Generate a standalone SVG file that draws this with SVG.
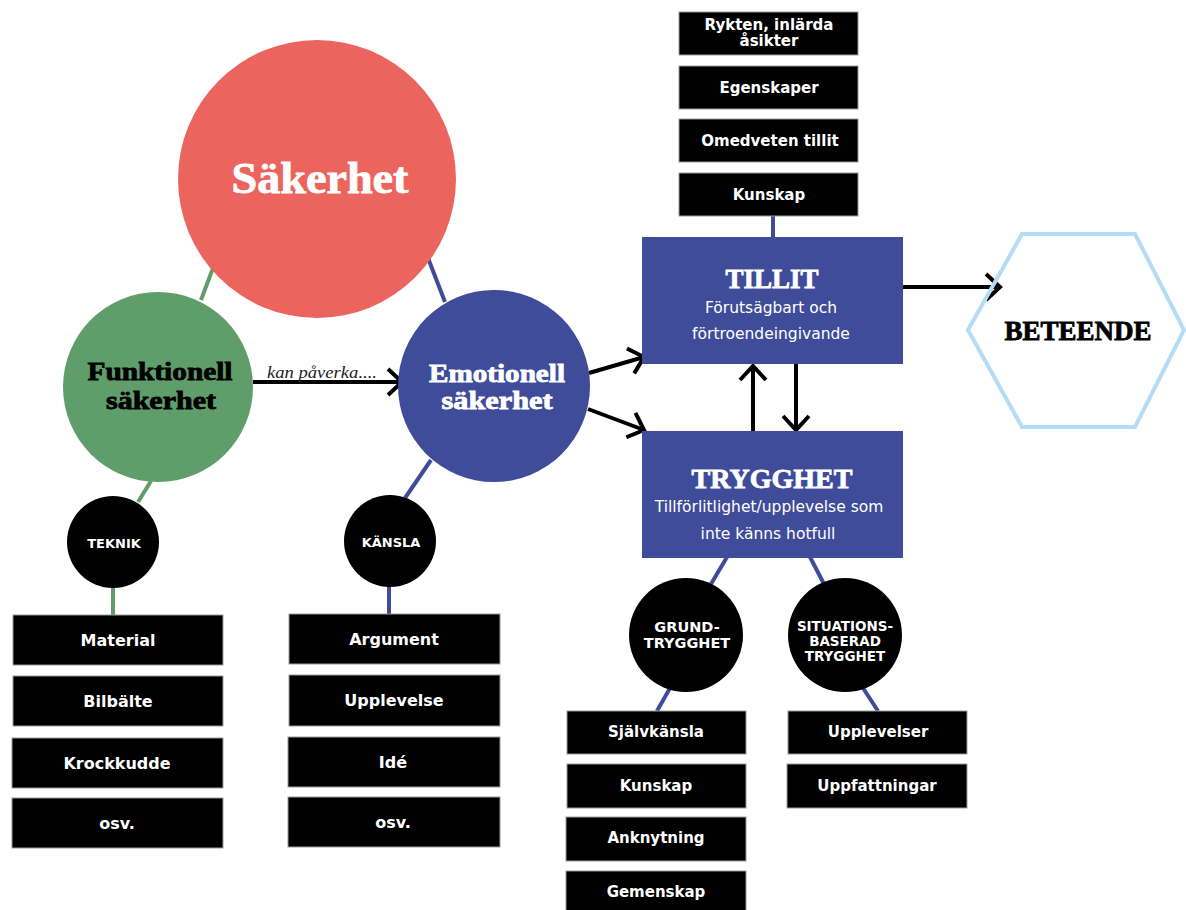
<svg xmlns="http://www.w3.org/2000/svg" width="1186" height="910" viewBox="0 0 1186 910">
<defs>
<style>
.box{fill:#000;stroke:#9a9a9a;stroke-width:1}
.bt{font-family:"DejaVu Sans",sans-serif;font-weight:bold;font-size:16px;fill:#fff;text-anchor:middle}
.bts{font-family:"DejaVu Sans",sans-serif;font-weight:bold;font-size:15px;fill:#fff;text-anchor:middle}
.ct{font-family:"DejaVu Sans",sans-serif;font-weight:bold;font-size:13px;fill:#fff;text-anchor:middle}
.ct2{font-family:"DejaVu Sans",sans-serif;font-weight:bold;font-size:14.5px;fill:#fff;text-anchor:middle}
.ct3{font-family:"DejaVu Sans",sans-serif;font-weight:bold;font-size:13.5px;fill:#fff;text-anchor:middle}
.ser{font-family:"Liberation Serif",serif;font-weight:bold;text-anchor:middle;stroke-width:0.8}
.w{fill:#fff;stroke:#fff}
.k{fill:#000;stroke:#000}
.sub{font-family:"DejaVu Sans",sans-serif;font-size:15.5px;fill:#fff;text-anchor:middle}
.blue{stroke:#3f4c99;stroke-width:4;fill:none}
.green{stroke:#5f9e6b;stroke-width:4;fill:none}
.arr{stroke:#000;stroke-width:4;fill:none;marker-end:url(#chev)}
</style>
<marker id="chev" markerUnits="userSpaceOnUse" viewBox="-18 -16 22 32" markerWidth="22" markerHeight="32" refX="0" refY="0" orient="auto">
<path d="M-14,-13 L0,0 L-14,13" fill="none" stroke="#000" stroke-width="4"/>
</marker>
</defs>
<rect width="1186" height="910" fill="#fff"/>

<g id="connectors">
<line class="green" x1="213" y1="268" x2="201" y2="300"/>
<line class="blue" x1="428" y1="258" x2="445" y2="302"/>
<line class="green" x1="151" y1="481" x2="138" y2="502"/>
<line class="green" x1="113" y1="586" x2="113" y2="615"/>
<line class="blue" x1="431" y1="460" x2="405" y2="498"/>
<line class="blue" x1="389" y1="586" x2="389" y2="614"/>
<line class="blue" x1="773" y1="216" x2="773" y2="238"/>
<line class="blue" x1="727" y1="557" x2="711" y2="584"/>
<line class="blue" x1="810" y1="557" x2="824" y2="584"/>
<line class="blue" x1="670" y1="688" x2="657" y2="711"/>
<line class="blue" x1="863" y1="688" x2="878" y2="711"/>
<line class="arr" x1="253" y1="382" x2="402" y2="382"/>
<line class="arr" x1="589" y1="373" x2="644" y2="357"/>
<line class="arr" x1="588" y1="409" x2="644" y2="430"/>
<line class="arr" x1="753" y1="432" x2="753" y2="366"/>
<line class="arr" x1="796" y1="364" x2="796" y2="430"/>
<line class="arr" x1="903" y1="287" x2="1000" y2="287"/>
<text x="322" y="378" font-family="Liberation Serif, serif" font-style="italic" font-size="16" fill="#222" text-anchor="middle" textLength="110" lengthAdjust="spacingAndGlyphs">kan påverka....</text>
</g>

<g id="sakerhet">
<circle cx="317" cy="179" r="139" fill="#ec645e"/>
<text class="ser w" x="320" y="193" font-size="44" stroke-width="1" textLength="177" lengthAdjust="spacingAndGlyphs">Säkerhet</text>
</g>

<g id="funktionell">
<circle cx="158" cy="387" r="95" fill="#5f9e6b"/>
<text class="ser k" x="160" y="380" font-size="25" textLength="145" lengthAdjust="spacingAndGlyphs">Funktionell</text>
<text class="ser k" x="161" y="409" font-size="25" textLength="110" lengthAdjust="spacingAndGlyphs">säkerhet</text>
</g>

<g id="emotionell">
<circle cx="494" cy="386" r="96" fill="#3f4c99"/>
<text class="ser w" x="497" y="382" font-size="25" textLength="136" lengthAdjust="spacingAndGlyphs">Emotionell</text>
<text class="ser w" x="497" y="409" font-size="25" textLength="111" lengthAdjust="spacingAndGlyphs">säkerhet</text>
</g>

<g id="teknik">
<circle cx="113" cy="542" r="46" fill="#000"/>
<text class="ct" x="114" y="548">TEKNIK</text>
</g>
<g id="kansla">
<circle cx="390" cy="541" r="46" fill="#000"/>
<text class="ct" x="391" y="547">KÄNSLA</text>
</g>

<g id="teknik-items">
<rect class="box" x="13" y="615" width="210" height="50"/>
<text class="bt" x="118" y="646">Material</text>
<rect class="box" x="13" y="676" width="210" height="50"/>
<text class="bt" x="118" y="707">Bilbälte</text>
<rect class="box" x="12" y="738" width="211" height="50"/>
<text class="bt" x="117" y="769">Krockkudde</text>
<rect class="box" x="12" y="798" width="211" height="50"/>
<text class="bt" x="117" y="829">osv.</text>
</g>

<g id="kansla-items">
<rect class="box" x="289" y="614" width="211" height="50"/>
<text class="bt" x="394" y="645">Argument</text>
<rect class="box" x="289" y="675" width="211" height="51"/>
<text class="bt" x="394" y="706">Upplevelse</text>
<rect class="box" x="288" y="737" width="212" height="50"/>
<text class="bt" x="393" y="768">Idé</text>
<rect class="box" x="288" y="797" width="212" height="50"/>
<text class="bt" x="393" y="828">osv.</text>
</g>

<g id="tillit-items">
<rect class="box" x="679" y="12" width="179" height="43"/>
<text class="bts" x="769" y="30">Rykten, inlärda</text>
<text class="bts" x="769" y="46">åsikter</text>
<rect class="box" x="679" y="66" width="179" height="43"/>
<text class="bts" x="769" y="93">Egenskaper</text>
<rect class="box" x="679" y="119" width="179" height="43"/>
<text class="bts" x="770" y="146">Omedveten tillit</text>
<rect class="box" x="679" y="173" width="179" height="43"/>
<text class="bts" x="769" y="200">Kunskap</text>
</g>

<g id="tillit">
<rect x="642" y="237" width="261" height="127" fill="#3f4c99"/>
<text class="ser w" x="772" y="288" font-size="27">TILLIT</text>
<text class="sub" x="771" y="313">Förutsägbart och</text>
<text class="sub" x="771" y="339">förtroendeingivande</text>
</g>

<g id="trygghet">
<rect x="642" y="431" width="261" height="127" fill="#3f4c99"/>
<text class="ser w" x="772" y="488" font-size="28">TRYGGHET</text>
<text class="sub" x="769" y="512">Tillförlitlighet/upplevelse som</text>
<text class="sub" x="768" y="539">inte känns hotfull</text>
</g>

<g id="beteende">
<polygon points="1022,234 1135,234 1184,330 1135,427 1022,427 968,330" fill="none" stroke="#b5dcf6" stroke-width="4"/>
<text class="ser k" x="1078" y="340" font-size="27">BETEENDE</text>
</g>

<g id="grundtrygghet">
<circle cx="686" cy="635" r="57" fill="#000"/>
<text class="ct2" x="687" y="632">GRUND-</text>
<text class="ct2" x="687" y="648">TRYGGHET</text>
</g>
<g id="situationsbaserad">
<circle cx="845" cy="635" r="57" fill="#000"/>
<text class="ct3" x="845" y="631">SITUATIONS-</text>
<text class="ct3" x="845" y="646">BASERAD</text>
<text class="ct3" x="845" y="661">TRYGGHET</text>
</g>

<g id="grund-items">
<rect class="box" x="567" y="711" width="179" height="43"/>
<text class="bts" x="656" y="737">Självkänsla</text>
<rect class="box" x="567" y="764" width="179" height="44"/>
<text class="bts" x="656" y="791">Kunskap</text>
<rect class="box" x="566" y="817" width="180" height="44"/>
<text class="bts" x="656" y="843">Anknytning</text>
<rect class="box" x="566" y="871" width="180" height="44"/>
<text class="bts" x="656" y="897">Gemenskap</text>
</g>

<g id="situations-items">
<rect class="box" x="788" y="711" width="179" height="43"/>
<text class="bts" x="878" y="737">Upplevelser</text>
<rect class="box" x="787" y="764" width="180" height="44"/>
<text class="bts" x="877" y="791">Uppfattningar</text>
</g>
</svg>
